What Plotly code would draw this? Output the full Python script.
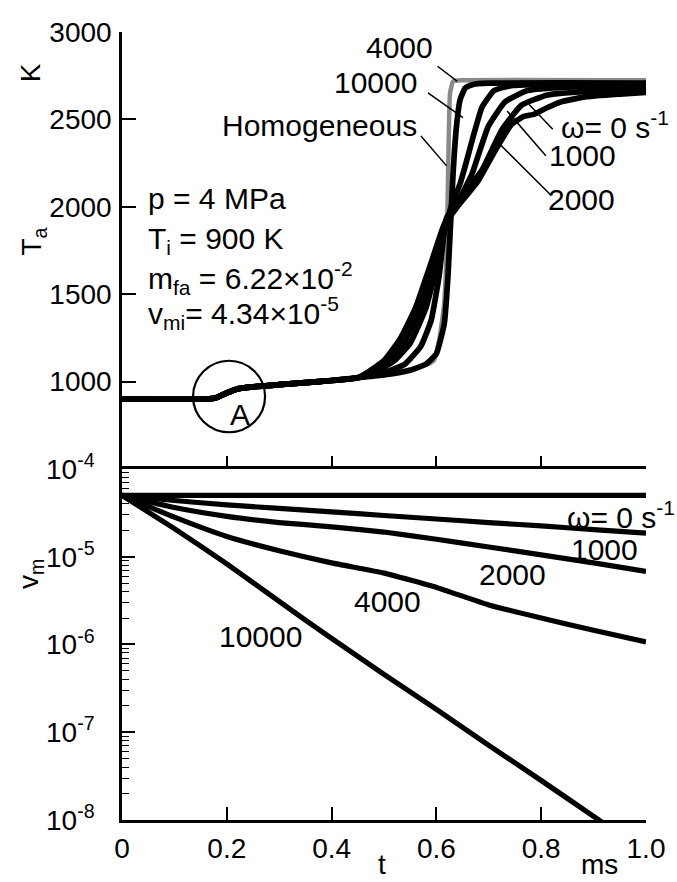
import plotly.graph_objects as go

# ---------------- data: top panel (T_a, K) ----------------
t_base = [0, 0.16, 0.18, 0.2, 0.22, 0.24, 0.3, 0.35, 0.4, 0.45]
T_base = [900, 900, 908, 935, 958, 967, 982, 994, 1006, 1022]

t_hom = t_base + [0.5, 0.55, 0.58, 0.595, 0.606, 0.615, 0.62, 0.623, 0.626, 0.632, 0.65, 1.0]
T_hom = T_base + [1040, 1070, 1095, 1120, 1250, 1450, 1800, 2300, 2650, 2718, 2724, 2724]

t_10000 = t_base + [0.5, 0.55, 0.58, 0.6, 0.615, 0.622, 0.627, 0.632, 0.638, 0.645, 0.655, 0.67, 0.7, 1.0]
T_10000 = T_base + [1038, 1065, 1100, 1160, 1330, 1600, 1900, 2200, 2450, 2610, 2680, 2700, 2707, 2708]

t_4000 = t_base + [0.5, 0.54, 0.57, 0.59, 0.605, 0.615, 0.628, 0.645, 0.656, 0.67, 0.687, 0.71, 0.74, 0.8, 1.0]
T_4000 = T_base + [1050, 1100, 1200, 1350, 1600, 1850, 2000, 2130, 2244, 2400, 2570, 2665, 2692, 2700, 2700]

t_2000 = t_base + [0.49, 0.52, 0.55, 0.58, 0.6, 0.615, 0.64, 0.668, 0.699, 0.731, 0.774, 0.85, 1.0]
T_2000 = T_base + [1065, 1120, 1220, 1420, 1650, 1880, 2020, 2188, 2460, 2600, 2665, 2685, 2690]

t_1000 = t_base + [0.48, 0.51, 0.54, 0.57, 0.6, 0.62, 0.65, 0.687, 0.725, 0.762, 0.812, 0.9, 1.0]
T_1000 = T_base + [1060, 1120, 1230, 1420, 1700, 1940, 2060, 2210, 2440, 2580, 2640, 2662, 2672]

t_0 = t_base + [0.47, 0.5, 0.53, 0.56, 0.59, 0.615, 0.64, 0.68, 0.712, 0.743, 0.765, 0.787, 0.812, 0.837, 0.887, 0.95, 1.0]
T_0 = T_base + [1055, 1120, 1240, 1420, 1680, 1900, 2000, 2150, 2320, 2470, 2515, 2530, 2568, 2600, 2630, 2645, 2655]

# ---------------- data: bottom panel (v_m) ----------------
t_v = [0, 0.1, 0.2, 0.3, 0.4, 0.5, 0.6, 0.7, 0.8, 0.9, 1.0]
v_0 = [5.0e-5] * 11
v_1000 = [5.0e-5, 4.37e-5, 3.89e-5, 3.55e-5, 3.24e-5, 2.95e-5, 2.69e-5, 2.45e-5, 2.24e-5, 2.04e-5, 1.86e-5]
v_2000 = [5.0e-5, 3.63e-5, 2.88e-5, 2.45e-5, 2.19e-5, 1.91e-5, 1.58e-5, 1.29e-5, 1.05e-5, 8.5e-6, 6.8e-6]
v_4000 = [5.0e-5, 2.82e-5, 1.70e-5, 1.17e-5, 8.5e-6, 6.5e-6, 4.47e-6, 2.82e-6, 2.0e-6, 1.45e-6, 1.07e-6]
t_v10000 = [0, 0.1, 0.2, 0.3, 0.4, 0.5, 0.6, 0.7, 0.8, 0.9, 0.935]
v_10000 = [5.0e-5, 2.09e-5, 8.3e-6, 3.09e-6, 1.17e-6, 4.57e-7, 1.82e-7, 7.1e-8, 2.82e-8, 1.10e-8, 7.9e-9]

x_ticks = [0, 0.2, 0.4, 0.6, 0.8, 1.0]
x_ticktext = ["0", "0.2", "0.4", "0.6", "0.8", "1.0"]
T_ticks = [1000, 1500, 2000, 2500, 3000]
v_ticks = [1e-8, 1e-7, 1e-6, 1e-5, 1e-4]
v_ticktext = ["10<sup>-8</sup>", "10<sup>-7</sup>", "10<sup>-6</sup>", "10<sup>-5</sup>", "10<sup>-4</sup>"]
v_minor = [k * 10.0 ** e for e in range(-8, -4) for k in range(2, 10)]

FONT = "Liberation Sans, Arial, Helvetica, sans-serif"
BLACK = "#000000"
GRAY = "#8a8a8a"
LW = 5.7

fig = go.Figure()

def line(x, y, color, width, xa, ya):
    fig.add_trace(go.Scatter(x=x, y=y, mode="lines", xaxis=xa, yaxis=ya,
                             line=dict(color=color, width=width, shape="spline", smoothing=0.4),
                             hoverinfo="skip", showlegend=False))

line(t_hom, T_hom, GRAY, 4.5, "x", "y")
for tx, Ty in [(t_0, T_0), (t_1000, T_1000), (t_2000, T_2000), (t_4000, T_4000), (t_10000, T_10000)]:
    line(tx, Ty, BLACK, LW, "x", "y")

for tx, vy in [(t_v, v_0), (t_v, v_1000), (t_v, v_2000), (t_v, v_4000), (t_v10000, v_10000)]:
    line(tx, vy, BLACK, 5.2, "x2", "y2")

split = 0.4455
axis_common = dict(showgrid=False, zeroline=False, tickcolor=BLACK, tickwidth=1.6,
                   tickfont=dict(family=FONT, size=28, color=BLACK))

fig.update_layout(
    width=677, height=882,
    margin=dict(l=122, r=24, t=27, b=62),
    paper_bgcolor="white", plot_bgcolor="white",
    showlegend=False,
    xaxis=dict(domain=[0, 1], anchor="y", range=[0, 1], showline=False,
               ticks="inside", ticklen=13, tickvals=x_ticks[1:], showticklabels=False,
               **axis_common),
    yaxis=dict(domain=[split, 1], anchor="x", range=[500, 3000], showline=True,
               linecolor=BLACK, linewidth=2.5, ticks="inside", ticklen=14,
               tickvals=T_ticks, ticklabelstandoff=2, **axis_common),
    xaxis2=dict(domain=[0, 1], anchor="y2", range=[0, 1], showline=True, mirror=True,
                linecolor=BLACK, linewidth=2.5, ticks="inside", ticklen=13,
                tickvals=x_ticks, ticktext=x_ticktext, ticklabelstandoff=2, **axis_common),
    yaxis2=dict(domain=[0, split], anchor="x2", type="log", range=[-8, -4], showline=True,
                linecolor=BLACK, linewidth=2.5, ticks="inside", ticklen=13,
                tickvals=v_ticks, ticktext=v_ticktext, ticklabelstandoff=19,
                minor=dict(ticks="inside", ticklen=7, tickwidth=1.4, tickcolor=BLACK,
                           tickvals=v_minor, showgrid=False),
                **axis_common),
)

def ann(text, x, y, xref="x", yref="y", xanchor="center", yanchor="middle", angle=0, size=30):
    fig.add_annotation(text=text, x=x, y=y, xref=xref, yref=yref, showarrow=False,
                       xanchor=xanchor, yanchor=yanchor, textangle=angle,
                       font=dict(family=FONT, size=size, color=BLACK))

# top panel labels
ann("4000", 0.530, 2910)
ann("10000", 0.567, 2710, xanchor="right")
ann("Homogeneous", 0.567, 2466, xanchor="right")
ann("ω= 0 s<sup>-1</sup>", 0.834, 2470, xanchor="left")
ann("1000", 0.878, 2295)
ann("2000", 0.876, 2044)
ann("A", 0.225, 812)
ann("p = 4 MPa", 0.0452, 2045, xanchor="left")
ann("T<sub>i</sub> = 900 K", 0.0452, 1807, xanchor="left")
ann("m<sub>fa</sub> = 6.22×10<sup>-2</sup>", 0.0452, 1590, xanchor="left")
ann("v<sub>mi</sub>= 4.34×10<sup>-5</sup>", 0.0452, 1392, xanchor="left")

# leader lines (top panel)
leaders = [((0.602, 2804), (0.6395, 2719)),
           ((0.584, 2652), (0.6507, 2510)),
           ((0.5705, 2405), (0.6195, 2234)),
           ((0.777, 2585), (0.822, 2443)),
           ((0.7350, 2548), (0.8088, 2292)),
           ((0.7210, 2358), (0.8192, 2065))]
for (xa, ya), (xb, yb) in leaders:
    fig.add_shape(type="line", xref="x", yref="y", x0=xa, y0=ya, x1=xb, y1=yb,
                  line=dict(color=BLACK, width=1.5))

# circle A
fig.add_shape(type="circle", xref="x", yref="y", x0=0.1356, x1=0.273, y0=710, y1=1119,
              line=dict(color=BLACK, width=2.2))

# bottom panel labels (y in log10 units)
ann("ω= 0 s<sup>-1</sup>", 0.8456, -4.524, xref="x2", yref="y2", xanchor="left")
ann("1000", 0.921, -4.921, xref="x2", yref="y2")
ann("2000", 0.745, -5.204, xref="x2", yref="y2")
ann("4000", 0.5066, -5.51, xref="x2", yref="y2")
ann("10000", 0.2637, -5.906, xref="x2", yref="y2")

# axis titles
ann("K", -0.173, 0.948, xref="paper", yref="paper", angle=-90, size=28)
ann("T<sub>a</sub>", -0.168, 0.734, xref="paper", yref="paper", angle=-90, size=28)
ann("v<sub>m</sub>", -0.175, 0.3127, xref="paper", yref="paper", angle=-90, size=28)
ann("t", 0.4953, -0.057, xref="paper", yref="paper", size=28)
ann("ms", 0.9115, -0.057, xref="paper", yref="paper", size=28)

fig.write_html("out.html")
